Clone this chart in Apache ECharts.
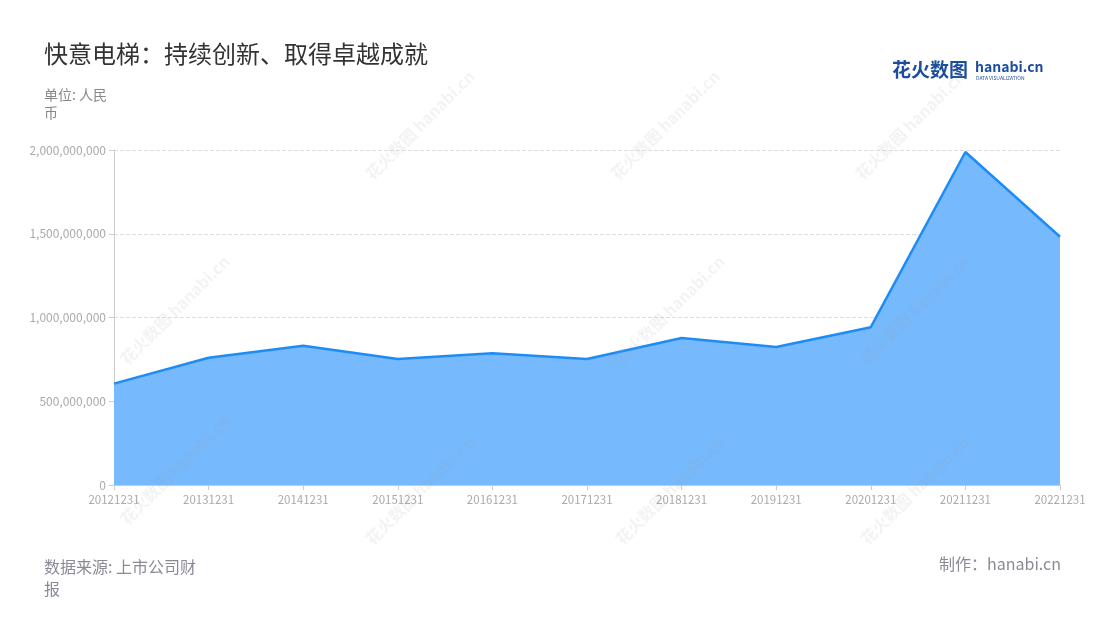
<!DOCTYPE html>
<html>
<head>
<meta charset="utf-8">
<script src="https://cdn.jsdelivr.net/npm/echarts@6/dist/echarts.min.js"></script>
<style>html,body{margin:0;padding:0;background:#fff;}#c{width:1100px;height:620px;}</style>
</head>
<body>
<div id="c"></div>
<script>
const categories = ['20121231','20131231','20141231','20151231','20161231','20171231','20181231','20191231','20201231','20211231','20221231'];
const values = [605000000, 760000000, 831000000, 752000000, 787000000, 752000000, 878000000, 824000000, 942000000, 1988000000, 1482000000];
const titleText = '快意电梯：持续创新、取得卓越成就';
const unitText = '单位: 人民\n币';
const sourceText = '数据来源: 上市公司财\n报';
const makerText = '制作：hanabi.cn';

const font = '"Noto Sans CJK SC", "Noto Sans", sans-serif';
const chart = echarts.init(document.getElementById('c'));

const wmPos = [[420,125],[665,125],[910,125],[175,310],[670,310],[915,310],[175,470],[420,490],[670,490],[915,490]];
const watermarks = wmPos.map(p => ({
  type: 'text', x: p[0], y: p[1], rotation: Math.PI/4, z: 10, silent: true,
  style: { text: '花火数图 hanabi.cn', fill: 'rgba(160,160,160,0.13)', font: 'bold 16px ' + font, textAlign: 'center', textVerticalAlign: 'middle' }
}));

chart.setOption({
  backgroundColor: '#fff',
  animation: false,
  grid: { left: 114, right: 40, top: 150, bottom: 135, containLabel: false },
  xAxis: {
    type: 'category', data: categories, boundaryGap: false,
    axisLine: { lineStyle: { color: '#ccc' } },
    axisTick: { show: true, lineStyle: { color: '#ccc' } },
    axisLabel: { color: '#aaa', fontSize: 11.5, fontFamily: font, margin: 9, interval: 0 }
  },
  yAxis: {
    type: 'value', min: 0, max: 2000000000, interval: 500000000,
    axisLine: { show: true, lineStyle: { color: '#ccc' } },
    axisTick: { show: true, lineStyle: { color: '#ccc' } },
    splitLine: { lineStyle: { color: '#ddd', type: 'dashed' } },
    axisLabel: { color: '#aaa', fontSize: 12, fontFamily: font, margin: 8,
      formatter: v => v.toLocaleString('en-US') }
  },
  series: [{
    type: 'line', data: values, showSymbol: false, symbol: 'none',
    lineStyle: { color: '#1e8cf7', width: 2.5 },
    areaStyle: { color: '#76b9fd', opacity: 1 },
    z: 2
  }],
  graphic: [
    { type: 'text', left: 44, top: 42, style: { text: titleText, fill: '#333', font: '24px ' + font } },
    { type: 'text', left: 44, top: 86, style: { text: unitText, fill: '#888', font: '14px ' + font, lineHeight: 18 } },
    { type: 'text', left: 44, top: 556, style: { text: sourceText, fill: '#8a8a96', font: '16px ' + font, lineHeight: 22 } },
    { type: 'text', right: 39, top: 556, style: { text: makerText, fill: '#8a8a96', font: '16px ' + font } },
    { type: 'text', left: 892, top: 60, style: { text: '花火数图', fill: '#1d4e9e', font: 'bold 19px ' + font } },
    { type: 'text', left: 975, top: 60, style: { text: 'hanabi.cn', fill: '#1d4e9e', font: 'bold 14px ' + font } },
    { type: 'text', left: 976, top: 76, style: { text: 'DATA VISUALIZATION', fill: '#1d4e9e', font: '5px ' + font } },
    ...watermarks
  ]
});
</script>
</body>
</html>
